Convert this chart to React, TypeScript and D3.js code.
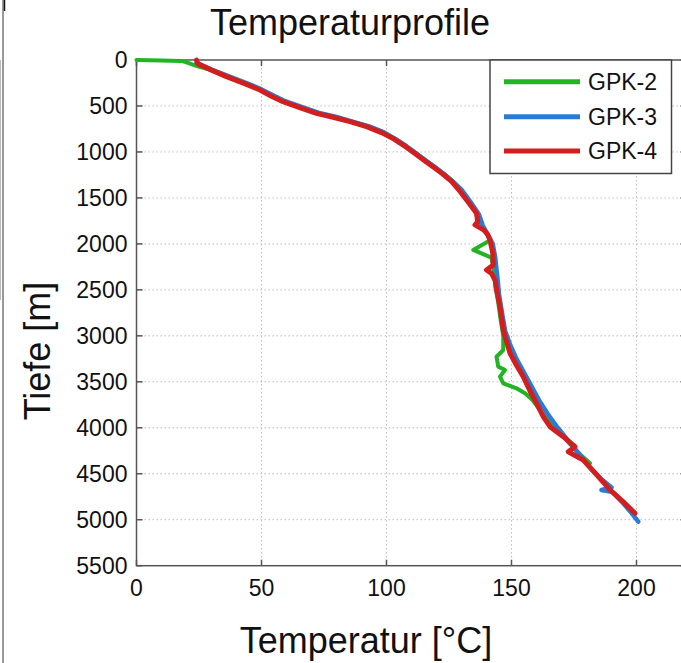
import React from "react";
import * as d3 from "d3";

const xTicks = [0, 50, 100, 150, 200];
const yTicks = [0, 500, 1000, 1500, 2000, 2500, 3000, 3500, 4000, 4500, 5000, 5500];
const seriesNames = ["GPK-2", "GPK-3", "GPK-4"];
const seriesColors = ["#22b422", "#2b7bd6", "#d21e1e"];

// [temperature °C, depth m]
const gpk2: [number, number][] = [
  [0, 0], [10, 5], [18, 10], [20, 25], [24.5, 70], [30, 110], [36, 180], [43, 252], [49.5, 322],
  [54.5, 392], [59, 450], [65.5, 512], [72.5, 577], [80, 622], [86, 668], [93, 722], [99, 788],
  [103.5, 858], [108, 938], [112, 1018], [116, 1098], [119.5, 1168], [123, 1238], [126.5, 1318],
  [129.5, 1410], [133, 1540], [136.5, 1670], [138, 1800], [140, 1880], [141.5, 1960],
  [139.4, 1994], [134.7, 2066], [139.4, 2120], [142, 2150], [143, 2300], [143.5, 2450],
  [144.5, 2600], [145.5, 2800], [146.7, 3000], [146.7, 3154], [144, 3227], [144.7, 3335],
  [147.4, 3371], [145.4, 3444], [146.7, 3516], [152, 3571], [155.4, 3625], [158.5, 3700],
  [162, 3830], [165.5, 3950], [169.5, 4060], [173.5, 4180], [177.5, 4290], [181.4, 4386],
];

const gpk3: [number, number][] = [
  [24, 30], [30, 105], [37, 178], [44, 250], [50, 320], [55, 390], [59.5, 448], [66, 510],
  [73, 575], [80, 620], [86, 667], [93, 722], [99, 787], [103.5, 858], [108, 938], [112, 1018],
  [116, 1098], [119.5, 1168], [123, 1240], [126.5, 1320], [130, 1410], [133.5, 1540],
  [137, 1680], [138.5, 1800], [140.5, 1900], [142.5, 2000], [143.5, 2150], [144, 2280],
  [144.5, 2400], [145, 2550], [146.5, 2800], [147.5, 2950], [149.5, 3100], [152, 3250],
  [155, 3400], [158, 3550], [161, 3700], [164.5, 3850], [168.5, 4000], [173, 4150],
  [177.5, 4300], [182, 4450], [186, 4560], [190, 4650], [186, 4676], [190.5, 4700],
  [194, 4800], [197.5, 4910], [200.7, 5021],
];

const gpk4: [number, number][] = [
  [24, 0], [24.5, 40], [30, 110], [36, 181], [43, 255], [49.4, 326], [54, 395], [58.6, 453],
  [65, 515], [72, 580], [79, 625], [85.4, 671], [92, 725], [98, 790], [103, 860], [107.5, 940],
  [111.5, 1020], [115.5, 1100], [119, 1170], [122.5, 1240], [126, 1320], [129, 1414],
  [132.5, 1540], [136, 1667], [136.5, 1760], [135.4, 1794], [139, 1850], [140.5, 1900],
  [141.4, 1957], [142.5, 2100], [142.7, 2229], [140, 2284], [142, 2320], [143.5, 2400],
  [144, 2500], [145.5, 2700], [146.7, 2936], [148, 3060], [149.4, 3190], [152, 3320],
  [154.7, 3444], [157.4, 3600], [160, 3733], [162.7, 3879], [165.4, 3988], [170.7, 4097],
  [175.4, 4205], [172.7, 4260], [178.7, 4350], [184, 4510], [189.4, 4676], [194.5, 4800],
  [199.4, 4930],
];

const seriesData = [gpk2, gpk3, gpk4];
const seriesWidths = [4, 4.5, 5];

const FONT = "'Liberation Sans', Arial, sans-serif";

export default function App() {
  const W = 681, H = 663;
  const left = 136.5, right = 686.5, top = 60, bottom = 565.7;
  const x = d3.scaleLinear().domain([0, 220]).range([left, right]);
  const y = d3.scaleLinear().domain([0, 5500]).range([top, bottom]);
  const line = d3.line<[number, number]>().x((d) => x(d[0])).y((d) => y(d[1]));
  const tickLen = 6;
  const axisColor = "#555";

  const leg = { x0: 490, y0: 60, x1: 671.5, y1: 173.5 };
  const legRows = [81.7, 116.7, 151];

  return (
    <svg width={W} height={H} style={{ position: "absolute", left: 0, top: 0, background: "#fff" }} fontFamily={FONT}>
      <rect x={0} y={0} width={W} height={H} fill="#fff" />
      {/* left frame remnants */}
      <line x1={3} y1={0} x2={3} y2={H} stroke="#777" strokeWidth={1.5} />
      <line x1={4.5} y1={0} x2={4.5} y2={11} stroke="#111" strokeWidth={1.5} />
      <line x1={0.5} y1={60} x2={0.5} y2={300} stroke="#bbb" strokeWidth={1} />

      {/* grid */}
      {xTicks.filter((t) => t > 0).map((t) => (
        <line key={"gx" + t} x1={x(t)} x2={x(t)} y1={top} y2={bottom} stroke="#bdbdbd" strokeWidth={1} strokeDasharray="1.5,2.5" />
      ))}
      {yTicks.filter((t) => t > 0 && t < 5500).map((t) => (
        <line key={"gy" + t} x1={left} x2={right} y1={y(t)} y2={y(t)} stroke="#bdbdbd" strokeWidth={1} strokeDasharray="1.5,2.5" />
      ))}

      {/* axis box */}
      <rect x={left} y={top} width={right - left} height={bottom - top} fill="none" stroke={axisColor} strokeWidth={1.5} />

      {/* ticks */}
      {xTicks.map((t) => (
        <g key={"tx" + t}>
          <line x1={x(t)} x2={x(t)} y1={bottom} y2={bottom - tickLen} stroke={axisColor} strokeWidth={1.5} />
          <line x1={x(t)} x2={x(t)} y1={top} y2={top + tickLen} stroke={axisColor} strokeWidth={1.5} />
          <text x={x(t)} y={596} textAnchor="middle" fontSize={23} fill="#111">{t}</text>
        </g>
      ))}
      {yTicks.map((t) => (
        <g key={"ty" + t}>
          <line x1={left} x2={left + tickLen} y1={y(t)} y2={y(t)} stroke={axisColor} strokeWidth={1.5} />
          <line x1={right} x2={right - tickLen} y1={y(t)} y2={y(t)} stroke={axisColor} strokeWidth={1.5} />
          <text x={127.5} y={y(t) + 8.3} textAnchor="end" fontSize={23} fill="#111">{t}</text>
        </g>
      ))}

      {/* series */}
      {seriesData.map((d, i) => (
        <path key={"s" + i} d={line(d) || ""} fill="none" stroke={seriesColors[i]} strokeWidth={seriesWidths[i]} strokeLinejoin="round" strokeLinecap="round" />
      ))}

      {/* legend */}
      <rect x={leg.x0} y={leg.y0} width={leg.x1 - leg.x0} height={leg.y1 - leg.y0} fill="#fff" stroke="#444" strokeWidth={1.5} />
      {seriesNames.map((n, i) => (
        <g key={"l" + n}>
          <line x1={504} x2={580} y1={legRows[i]} y2={legRows[i]} stroke={seriesColors[i]} strokeWidth={5} />
          <text x={588} y={legRows[i] + 8.3} fontSize={23} fill="#111">{n}</text>
        </g>
      ))}

      {/* titles */}
      <text x={350} y={35} textAnchor="middle" fontSize={36} fill="#111">Temperaturprofile</text>
      <text x={366} y={653} textAnchor="middle" fontSize={36} fill="#111">Temperatur [°C]</text>
      <text transform={`translate(50,351) rotate(-90)`} textAnchor="middle" fontSize={36} fill="#111">Tiefe [m]</text>
    </svg>
  );
}
